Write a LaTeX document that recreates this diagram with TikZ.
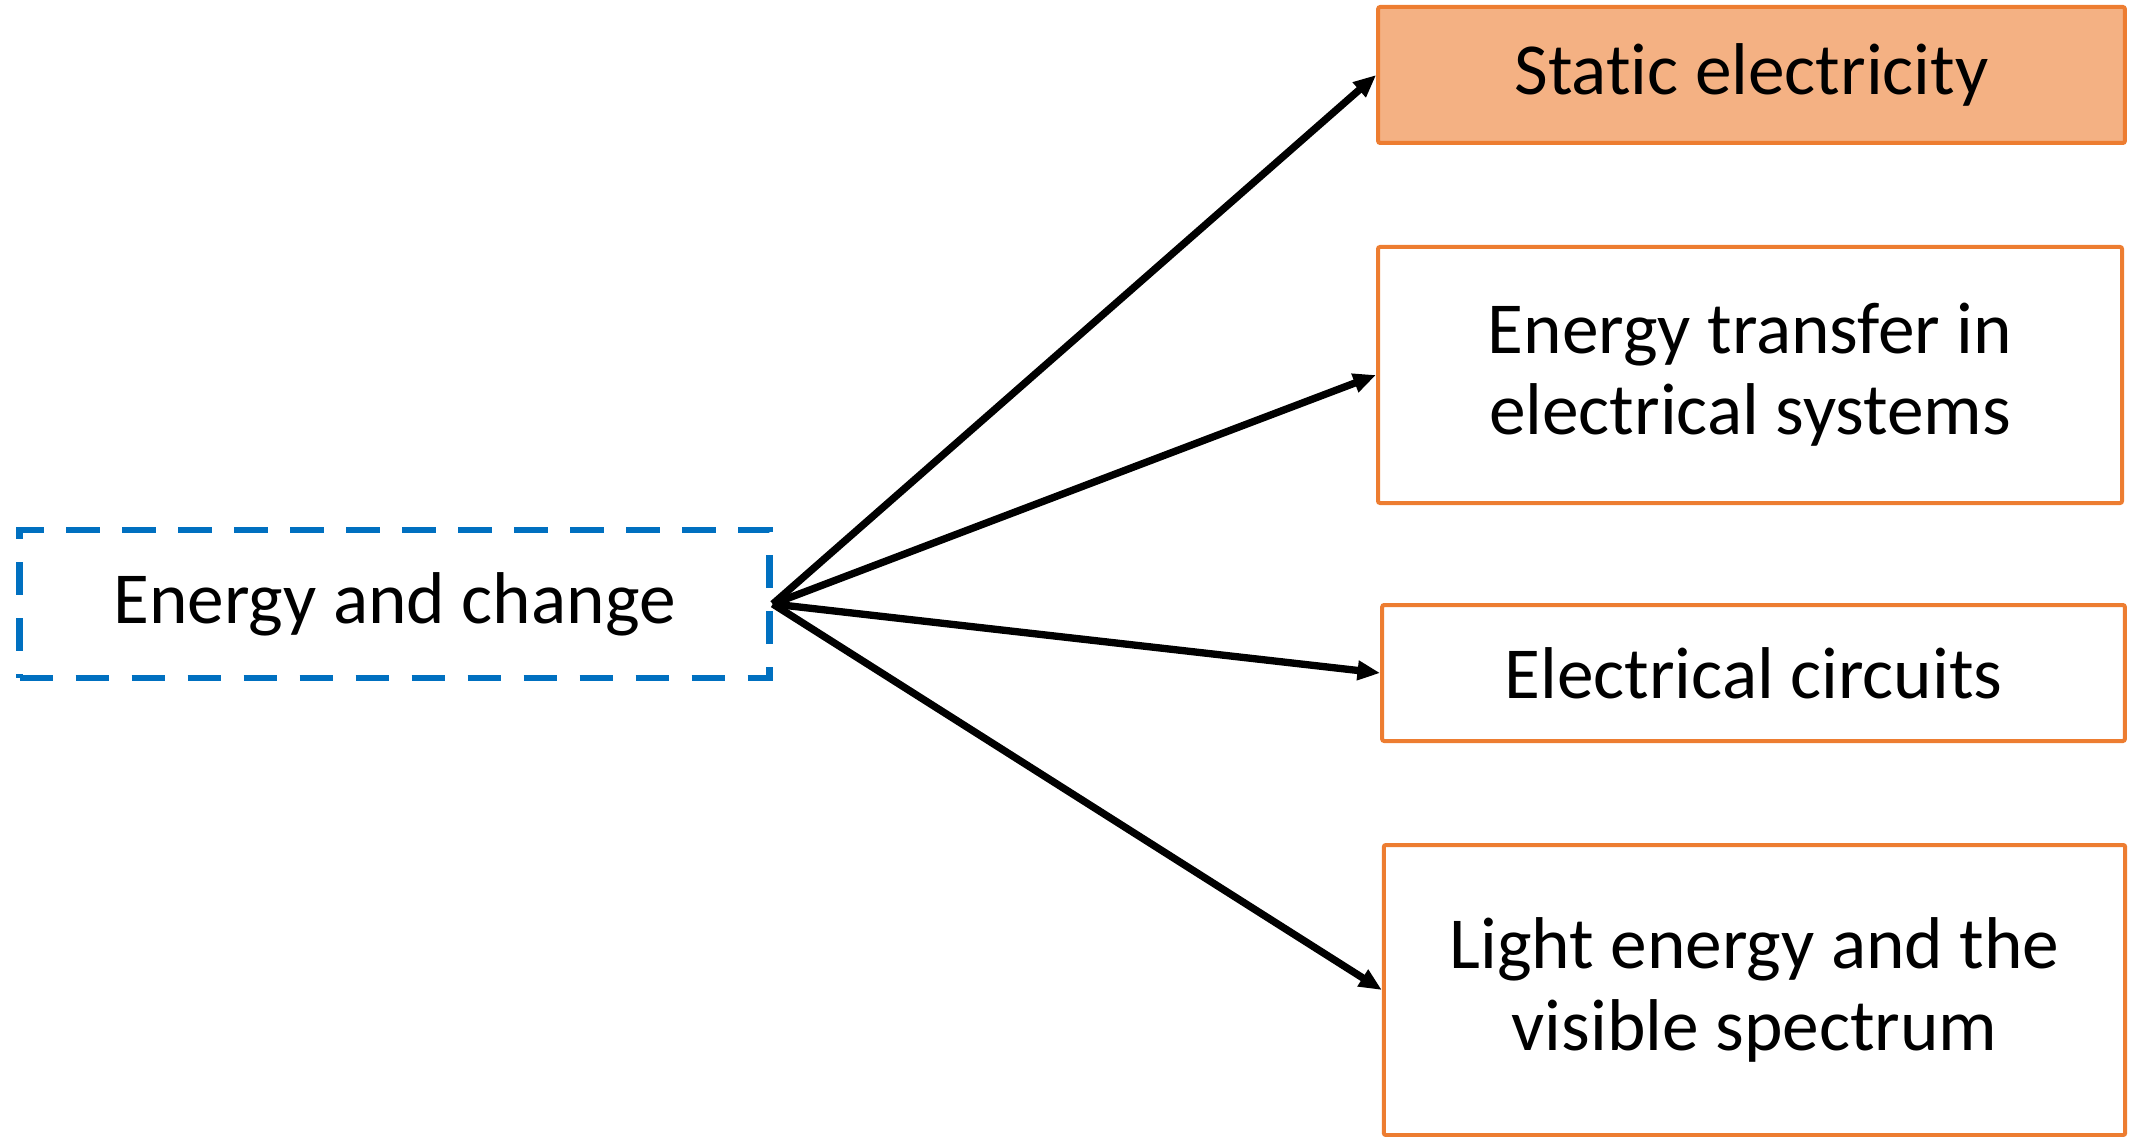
\documentclass[tikz,border=0pt]{standalone}
\usepackage{fontspec}
\setmainfont[Ligatures=NoCommon]{Carlito}
\usetikzlibrary{arrows.meta}
\definecolor{boxorange}{HTML}{ED7D31}
\definecolor{boxpeach}{HTML}{F4B183}
\definecolor{topicblue}{HTML}{0070C0}
\tikzset{
  topicbox/.style={draw=topicblue, line width=5pt, dash pattern=on 25pt off 17pt, align=center, inner sep=0pt, font=\fontsize{55}{61}\selectfont},
  unitbox/.style={draw=boxorange, line width=3pt, rounded corners=1.5pt, align=center, inner sep=0pt, font=\fontsize{55}{61}\selectfont},
  link/.style={line width=5.5pt, -{Triangle[length=17pt,width=14pt]}}
}
\begin{document}
\begin{tikzpicture}[x=0.75pt,y=0.75pt,yscale=-1,xscale=1]
\useasboundingbox (0,0) rectangle (2129,1137);

% topic on the left
\node [topicbox, minimum width=562.5pt, minimum height=111pt] (energy) at (394.5,604) {Energy and change};

% units on the right
\node [unitbox, fill=boxpeach, minimum width=560pt, minimum height=102pt] (static) at (1751.5,75) {Static electricity};
\node [unitbox, minimum width=558pt, minimum height=192pt] (transfer) at (1750,375) {Energy transfer in\\electrical systems};
\node [unitbox, minimum width=557pt, minimum height=102pt] (circuits) at (1753.5,673) {Electrical circuits};
\node [unitbox, minimum width=556pt, minimum height=217.5pt] (light) at (1754.5,990) {Light energy and the\\visible spectrum};

% links
\draw [link] (energy.east) -- (static.west);
\draw [link] (energy.east) -- (transfer.west);
\draw [link] (energy.east) -- (circuits.west);
\draw [link] (energy.east) -- (light.west);

\end{tikzpicture}
\end{document}
